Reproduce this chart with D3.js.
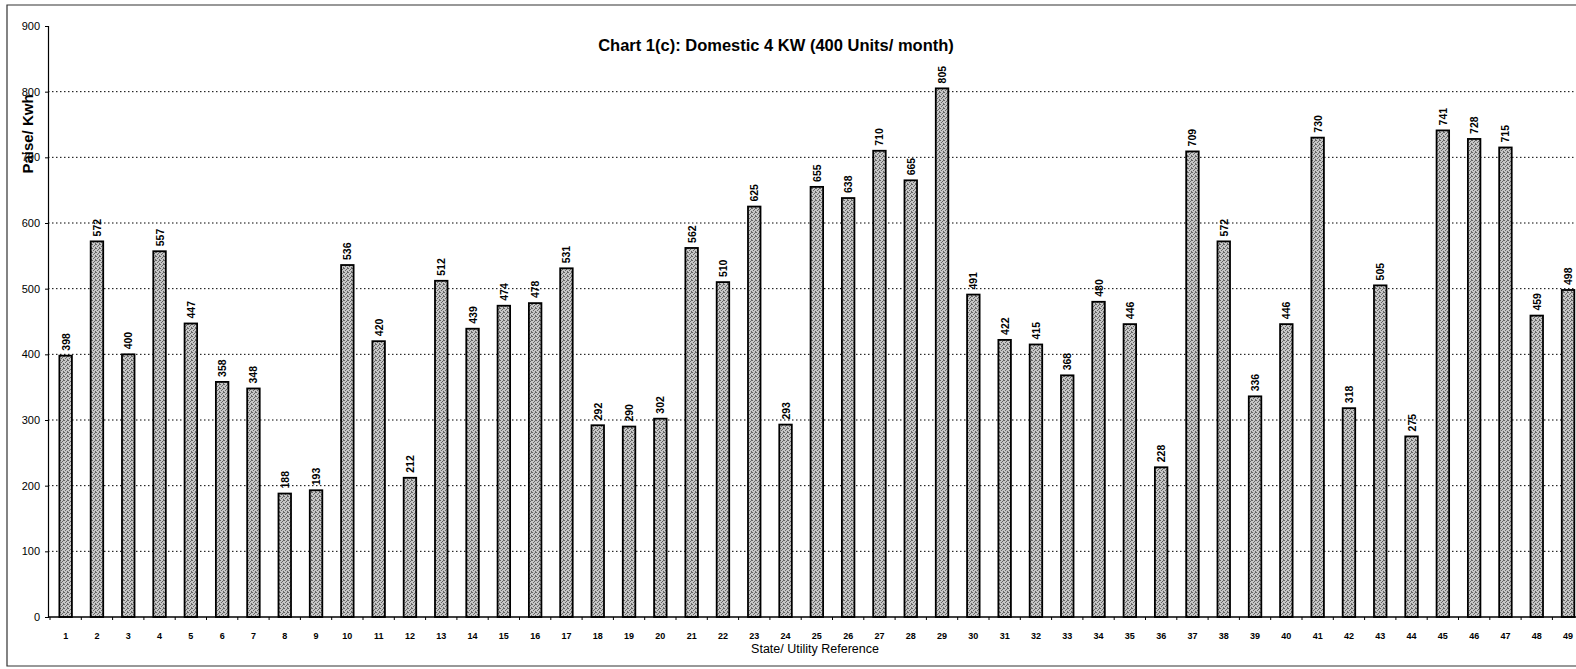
<!DOCTYPE html>
<html>
<head>
<meta charset="utf-8">
<script src="https://cdn.jsdelivr.net/npm/d3@7"></script>
<style>
  body { margin: 0; background: #fff; }
  svg { display: block; font-family: "Liberation Sans", Arial, sans-serif; }
</style>
</head>
<body>
<div id="chart"></div>
<script>
// chart data
const categories = d3.range(1, 50).map(String);
const values = [398, 572, 400, 557, 447, 358, 348, 188, 193, 536,
                420, 212, 512, 439, 474, 478, 531, 292, 290, 302,
                562, 510, 625, 293, 655, 638, 710, 665, 805, 491,
                422, 415, 368, 480, 446, 228, 709, 572, 336, 446,
                730, 318, 505, 275, 741, 728, 715, 459, 498];
const yTicks = [0, 100, 200, 300, 400, 500, 600, 700, 800, 900];
const gridTicks = [100, 200, 300, 400, 500, 600, 700, 800];

const titleText = 'Chart 1(c): Domestic 4 KW (400 Units/ month)';
const yTitle = 'Paise/ Kwh';
const xTitle = 'State/ Utility Reference';

const W = 1576, H = 669;
const svg = d3.select('#chart').append('svg').attr('width', W).attr('height', H);

// stipple fill like the scanned bars
const defs = svg.append('defs');
const pat = defs.append('pattern').attr('id', 'stip')
  .attr('width', 4).attr('height', 4).attr('patternUnits', 'userSpaceOnUse');
pat.append('rect').attr('width', 4).attr('height', 4).attr('fill', '#c6c6c6');
[[0, 0], [2, 1], [1, 2], [3, 3], [3, 0]].forEach(p => {
  pat.append('rect').attr('x', p[0]).attr('y', p[1]).attr('width', 1).attr('height', 1).attr('fill', '#666');
});

const x0 = 50, step = 31.3;
const x = d3.scaleBand().domain(categories).range([x0, x0 + categories.length * step])
  .paddingInner(0.6).paddingOuter(0.3);
const y = d3.scaleLinear().domain([0, 900]).range([617, 26]);

// outer frame
svg.append('path')
  .attr('d', `M${W} 5 L7 5 L7 666 L${W} 666`)
  .attr('fill', 'none').attr('stroke', '#333').attr('stroke-width', 1.2);

// dotted grid
svg.append('g').selectAll('line').data(gridTicks).enter().append('line')
  .attr('x1', 48).attr('x2', W)
  .attr('y1', d => y(d)).attr('y2', d => y(d))
  .attr('stroke', '#000').attr('stroke-width', 1)
  .attr('stroke-dasharray', '1.5,2.5');

// y axis
const yAxis = svg.append('g').attr('transform', 'translate(48,0)')
  .call(d3.axisLeft(y).tickValues(yTicks).tickSize(3).tickPadding(5));
yAxis.select('.domain').attr('stroke', '#000').attr('stroke-width', 1.2);
yAxis.selectAll('text').attr('font-size', 11).attr('fill', '#000')
  .attr('font-family', '"Liberation Sans", Arial, sans-serif');

// bars
svg.append('g').selectAll('rect').data(values).enter().append('rect')
  .attr('x', (d, i) => x(categories[i]))
  .attr('width', x.bandwidth())
  .attr('y', d => y(d))
  .attr('height', d => y(0) - y(d))
  .attr('fill', 'url(#stip)')
  .attr('stroke', '#000').attr('stroke-width', 1.8);

// value labels
svg.append('g').selectAll('text').data(values).enter().append('text')
  .attr('transform', (d, i) => `translate(${x(categories[i]) + x.bandwidth() / 2 + 4},${y(d) - 5}) rotate(-90)`)
  .attr('font-size', 10.5).attr('font-weight', 'bold')
  .text(d => d);

// x axis line + ticks between categories
const xa = svg.append('g');
xa.append('line').attr('x1', 48).attr('x2', W).attr('y1', y(0)).attr('y2', y(0))
  .attr('stroke', '#000').attr('stroke-width', 1.4);
xa.selectAll('line.tk').data(d3.range(categories.length + 1)).enter().append('line')
  .attr('class', 'tk')
  .attr('x1', i => x0 + i * step).attr('x2', i => x0 + i * step)
  .attr('y1', y(0)).attr('y2', y(0) + 3)
  .attr('stroke', '#000');
xa.selectAll('text').data(categories).enter().append('text')
  .attr('x', d => x(d) + x.bandwidth() / 2)
  .attr('y', 639)
  .attr('text-anchor', 'middle')
  .attr('font-size', 9).attr('font-weight', 'bold')
  .text(d => d);

// titles
svg.append('text').attr('x', 776).attr('y', 51).attr('text-anchor', 'middle')
  .attr('font-size', 16.5).attr('font-weight', 'bold').text(titleText);

svg.append('text').attr('transform', 'translate(33,134) rotate(-90)')
  .attr('text-anchor', 'middle').attr('font-size', 15).attr('font-weight', 'bold')
  .text(yTitle);

svg.append('text').attr('x', 815).attr('y', 653).attr('text-anchor', 'middle')
  .attr('font-size', 12.5).text(xTitle);
</script>
</body>
</html>
